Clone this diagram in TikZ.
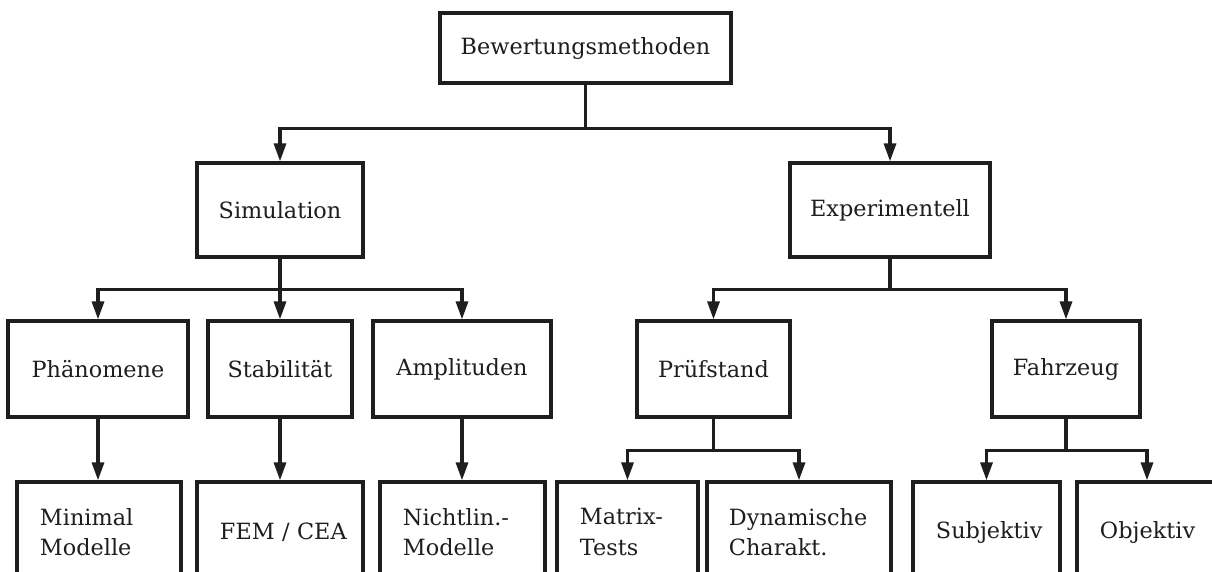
\documentclass[tikz,border=0pt]{standalone}
\usepackage{fontspec}
\setmainfont{DejaVu Serif}
\usepackage{tikz}
\usetikzlibrary{arrows.meta,positioning}
\definecolor{linedark}{RGB}{30,30,30}
\tikzset{
  block/.style={rectangle, draw=linedark, line width=2.3pt, fill=white, align=center,
                inner sep=0pt, text=linedark, font=\fontsize{15.9}{21.5}\selectfont},
  leaf/.style={block, align=left, inner xsep=0.575cm, minimum height=2.5cm},
  arrow/.style={-{Triangle[length=4.5mm,width=3mm]}, line width=2.3pt, linedark},
}

\begin{document}
\begin{tikzpicture}[x=0.025cm, y=-0.025cm]
\clip (0,0) rectangle (1212,572);
% root and second level
\node[block, minimum width=7.275cm, minimum height=1.75cm] (bew) at (585.5,48) {Bewertungsmethoden};
\node[block, minimum width=4.15cm, minimum height=2.35cm] (sim) at (280,210) {Simulation};
\node[block, minimum width=5cm, minimum height=2.35cm] (exp) at (890,210) {Experimentell};
% third level
\node[block, minimum width=4.5cm, minimum height=2.4cm] (phae) at (98,369) {Phänomene};
\node[block, minimum width=3.6cm, minimum height=2.4cm] (stab) at (280,369) {Stabilität};
\node[block, minimum width=4.45cm, minimum height=2.4cm] (ampl) at (462,369) {Amplituden};
\node[block, minimum width=3.825cm, minimum height=2.4cm] (pruef) at (713.5,369) {Prüfstand};
\node[block, minimum width=3.7cm, minimum height=2.4cm] (fahr) at (1066,369) {Fahrzeug};
% fourth level (cut off at the bottom)
\node[leaf, text width=2.95cm] (mini) at (99,532) {Minimal\\Modelle};
\node[leaf, text width=3cm] (fem) at (280,532) {FEM~/~CEA};
\node[leaf, text width=2.975cm] (nicht) at (462.5,532) {Nichtlin.-\\Modelle};
\node[leaf, text width=2.375cm] (matrix) at (627.5,532) {Matrix-\\Tests};
\node[leaf, text width=3.5cm, inner xsep=0.55cm] (dyn) at (799,532) {Dynamische\\Charakt.};
\node[leaf, text width=2.525cm] (subj) at (986.5,532) {Subjektiv};
\node[leaf, text width=2.35cm] (obj) at (1147,532) {Objektiv};

\draw[arrow] (bew.south) -- ++(0,44) -| (sim.north);
\draw[arrow] (bew.south) -- ++(0,44) -| (exp.north);
\foreach \c in {phae,stab,ampl}
  \draw[arrow] (sim.south) -- ++(0,31) -| (\c.north);
\foreach \c in {pruef,fahr}
  \draw[arrow] (exp.south) -- ++(0,31) -| (\c.north);
\foreach \a/\b in {phae/mini, stab/fem, ampl/nicht}
  \draw[arrow] (\a.south) -- (\a.south |- \b.north);
\foreach \c in {matrix,dyn}
  \draw[arrow] (pruef.south) -- ++(0,32) -| (\c.north);
\foreach \c in {subj,obj}
  \draw[arrow] (fahr.south) -- ++(0,32) -| (\c.north);
\end{tikzpicture}
\end{document}
